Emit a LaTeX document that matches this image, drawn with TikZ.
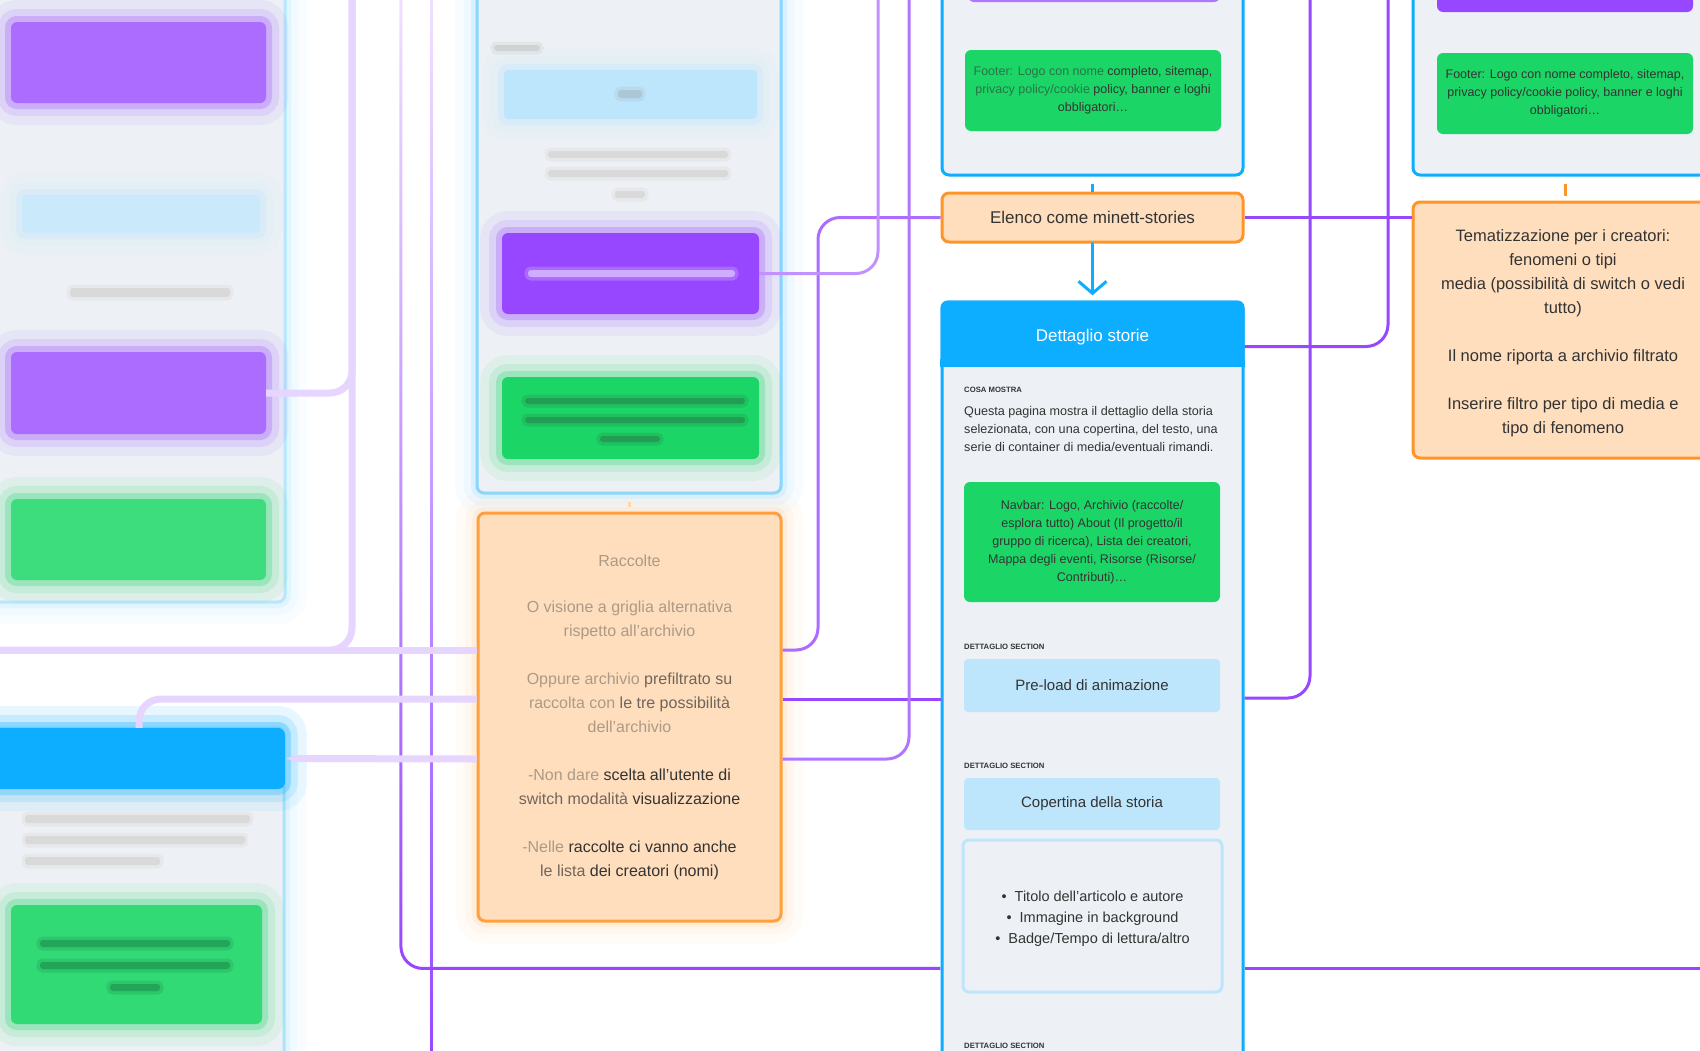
\documentclass[tikz,border=0pt]{standalone}
\usepackage{fontspec}
\setmainfont{Liberation Sans}
\usetikzlibrary{arrows.meta,positioning,fadings}

\definecolor{wire}{HTML}{9747FF}
\definecolor{sky}{HTML}{0DAEFF}
\definecolor{paper}{HTML}{EDF1F5}
\definecolor{ice}{HTML}{BDE5FB}
\definecolor{leaf}{HTML}{1BD666}
\definecolor{peach}{HTML}{FFDEBD}
\definecolor{amber}{HTML}{FF9528}
\definecolor{ink}{HTML}{333333}
\definecolor{mist}{HTML}{E6D6FF}
\colorlet{fog}{ink!40!peach}
\colorlet{dim}{ink!70!peach}

\tikzstyle{panel} = [rectangle, draw=sky, line width=3pt, fill=paper, rounded corners=7pt, inner sep=0pt]
\tikzstyle{head} = [rectangle, fill=sky, rounded corners=7pt, text=white, font=\fontsize{17}{20}\selectfont, inner sep=0pt]
\tikzstyle{note} = [rectangle, draw=amber, line width=3pt, fill=peach, rounded corners=7pt, text=ink, align=center, font=\fontsize{16.5}{24}\selectfont, inner sep=0pt]
\tikzstyle{navbox} = [rectangle, fill=leaf, rounded corners=6pt, text=ink, align=center, font=\fontsize{12.5}{18}\selectfont, inner sep=0pt]
\tikzstyle{bar} = [rectangle, fill=wire, rounded corners=6pt, inner sep=0pt]
\tikzstyle{section} = [rectangle, fill=ice, rounded corners=4pt, text=ink, font=\fontsize{15}{18}\selectfont, inner sep=0pt]
\tikzstyle{tag} = [anchor=west, inner sep=0pt, text=ink, font=\bfseries\fontsize{7.7}{9}\selectfont]
\tikzstyle{line} = [draw=wire, line width=3pt, rounded corners=22pt]
\tikzstyle{faint} = [draw=mist, line width=7pt, rounded corners=22pt]
\tikzstyle{tick} = [draw, line width=3pt]
\tikzset{haze/.style={preaction={draw=#1, draw opacity=.07, line width=44pt}, preaction={draw=#1, draw opacity=.12, line width=26pt}, preaction={draw=#1, draw opacity=.25, line width=12pt}},
  smudge/.style={fill=#1, draw=#1, draw opacity=.35, line width=7pt, rounded corners=3pt}}
\tikzfading[name=fade top, top color=transparent!85, middle color=transparent!75, bottom color=transparent!0]

\begin{document}
\begin{tikzpicture}[x=1pt, y=-1pt]
\useasboundingbox (0,0) rectangle (1700,1050);
\fill [white] (0,0) rectangle (1700,1050);

% Place nodes
% left column, out of focus
\node [panel, draw=sky!30, haze=sky!30, minimum width=305pt, minimum height=662pt] (leftcol) at (132.5,271) {};
\node [bar, fill=wire!80!white, haze=wire, minimum width=255pt, minimum height=81pt] (leftnav) at (138.5,62.5) {};
\node [section, fill=ice!80!white, haze=ice, minimum width=238pt, minimum height=38pt] (leftsec) at (141,214) {};
\path [smudge=gray!30] (70,288) rectangle (230,297);
\node [bar, fill=wire!80!white, haze=wire, minimum width=255pt, minimum height=82pt] (leftmenu) at (138.5,393) {};
\node [navbox, fill=leaf!85!white, haze=leaf, minimum width=255pt, minimum height=81pt] (leftfoot) at (138.5,539.5) {};

\node [panel, draw=sky!35, haze=sky!30, minimum width=304pt, minimum height=372pt] (mapcol) at (132,914) {};
\node [head, haze=sky, minimum width=305pt, minimum height=61pt] (maphead) at (132.5,758.5) {};
\path [smudge=gray!30] (25,815) rectangle (250,823);
\path [smudge=gray!30] (25,836) rectangle (245,844);
\path [smudge=gray!30] (25,857) rectangle (160,865);
\node [navbox, fill=leaf!90!white, haze=leaf, minimum width=251pt, minimum height=119pt] (mapfoot) at (136.5,964.5) {};
\path [smudge=leaf!70!ink] (40,940) rectangle (230,947);
\path [smudge=leaf!70!ink] (40,962) rectangle (230,969);
\path [smudge=leaf!70!ink] (110,984) rectangle (160,991);

% archive column, out of focus
\node [panel, draw=sky!50, haze=sky!40, minimum width=304pt, minimum height=553pt] (archive) at (629,216.5) {};
\path [smudge=gray!35] (494,45) rectangle (540,51);
\node [section, haze=ice, minimum width=253pt, minimum height=49pt] (archsec) at (630.5,94.5) {};
\path [smudge=ice!70!gray] (618,90) rectangle (642,98);
\path [smudge=gray!30] (548,151) rectangle (728,158);
\path [smudge=gray!30] (548,170) rectangle (728,177);
\path [smudge=gray!30] (615,191) rectangle (645,198);
\node [bar, haze=wire, minimum width=257pt, minimum height=81pt] (archmenu) at (630.5,273.5) {};
\path [smudge=white!55!wire] (528,270) rectangle (735,277);
\node [navbox, haze=leaf, minimum width=257pt, minimum height=82pt] (archfoot) at (630.5,418) {};
\path [smudge=leaf!65!ink] (525,398) rectangle (745,404);
\path [smudge=leaf!65!ink] (525,417) rectangle (745,423);
\path [smudge=leaf!65!ink] (600,436) rectangle (660,442);

\node [note, draw=amber!90, haze=amber!40, font=\fontsize{16}{24}\selectfont, minimum width=303pt, minimum height=408pt] (collections) at (629.5,717) {\raisebox{-2pt}{\color{fog}Raccolte}\\[24pt] \color{fog}O visione a griglia alternativa\\ \color{fog}rispetto all’archivio\\[24pt] \color{fog}Oppure archivio \color{dim}prefiltrato su\\ \color{fog}raccolta con \color{dim}le tre possibilità\\ \color{fog}dell’archivio\\[24pt] \color{fog}-Non dare \color{ink}scelta all’utente di\\ \color{dim}switch modalità \color{ink}visualizzazione\\[24pt] \color{fog}-Nelle \color{ink}raccolte ci vanno anche\\ \color{dim}le lista \color{ink}dei creatori (nomi)};

% story column
\node [panel, minimum width=301pt, minimum height=235pt] (storytop) at (1092.5,57.5) {};
\node [bar, fill=wire!75!white, minimum width=252pt, minimum height=42pt] (storybar) at (1094,-19) {};
\node [navbox, minimum width=256pt, minimum height=81pt] (storyfoot) at (1093,90.5) {\color{ink!60!leaf}Footer: Logo con nome \color{ink}completo, sitemap,\\ \color{ink!60!leaf}privacy policy/cookie \color{ink}policy, banner e loghi\\ obbligatori…};
\node [note, font=\fontsize{17}{20}\selectfont, minimum width=301pt, minimum height=49pt] (elenco) at (1092.5,217.5) {\raisebox{-2pt}[12.4pt][3.6pt]{Elenco come minett-stories}};

\node [panel, minimum width=301pt, minimum height=798pt] (detail) at (1092.5,701) {};
\node [head, minimum width=304pt, minimum height=66pt] (dethead) at (1092.5,333.5) {\raisebox{-4pt}[12.4pt][3.6pt]{Dettaglio storie}};
\fill [sky] ([yshift=8pt]dethead.south west) rectangle (dethead.south east);
\node [tag] (showtag) at (964,390) {COSA MOSTRA};
\node [anchor=west, align=left, inner sep=0pt, text=ink, font=\fontsize{12.6}{18}\selectfont] (summary) at (964,429) {Questa pagina mostra il dettaglio della storia\\ selezionata, con una copertina, del testo, una\\ serie di container di media/eventuali rimandi.};
\node [navbox, minimum width=256pt, minimum height=120pt] (navbar) at (1092,542) {Navbar: Logo, Archivio (raccolte/\\ esplora tutto) About (Il progetto/il\\ gruppo di ricerca), Lista dei creatori,\\ Mappa degli eventi, Risorse (Risorse/\\ Contributi)…};
\node [tag] (sectag1) at (964,647) {DETTAGLIO SECTION};
\node [section, minimum width=256pt, minimum height=53pt] (preload) at (1092,685.5) {Pre-load di animazione};
\node [tag] (sectag2) at (964,766) {DETTAGLIO SECTION};
\node [section, minimum width=256pt, minimum height=52pt] (cover) at (1092,804) {Copertina della storia};
\node [panel, draw=ice, rounded corners=6pt, align=center, text=ink, font=\fontsize{14.5}{21}\selectfont, minimum width=259pt, minimum height=152pt] (coverlist) at (1092.5,916) {\rule{0pt}{16pt}\textbullet\hspace{8pt}Titolo dell’articolo e autore\\ \textbullet\hspace{8pt}Immagine in background\\ \textbullet\hspace{8pt}Badge/Tempo di lettura/altro};
\node [tag] (sectag3) at (964,1046) {DETTAGLIO SECTION};

% creators column
\node [panel, minimum width=304pt, minimum height=235pt] (creatortop) at (1565,57.5) {};
\node [bar, minimum width=256pt, minimum height=52pt] (creatorbar) at (1565,-14) {};
\node [navbox, minimum width=256pt, minimum height=81pt] (creatorfoot) at (1565,93.5) {Footer: Logo con nome completo, sitemap,\\ privacy policy/cookie policy, banner e loghi\\ obbligatori…};
\node [note, minimum width=300pt, minimum height=256pt] (themes) at (1563,330) {\rule{0pt}{18pt}Tematizzazione per i creatori:\\ fenomeni o tipi\\ media (possibilità di switch o vedi\\ tutto)\\[24pt] Il nome riporta a archivio filtrato\\[24pt] Inserire filtro per tipo di media e\\ tipo di fenomeno};

% free ends
\coordinate (storyup) at (1388,-10);
\coordinate (preup) at (1310,-10);
\coordinate (rightout) at (1710,968);
\coordinate (coverup) at (401,-10);
\coordinate (trunktop) at (431,-10);
\coordinate (trunkbot) at (431,1060);
\coordinate (archup) at (909,-10);
\coordinate (menuup) at (878,-10);
\coordinate (sideup) at (352,-10);
\coordinate (sideout) at (-10,650);

% Draw edges
\path [tick, draw=sky, shorten <=7pt] (storytop) -- (elenco);
\path [tick, draw=sky, line cap=round, shorten >=5pt, -{Straight Barb[length=12pt, width=28pt]}] (elenco) -- (dethead);
\path [tick, draw=amber, shorten <=7pt, shorten >=5pt] (creatortop.south) -- (creatortop.south |- themes.north);
\path [tick, draw=amber!40, shorten <=7pt, shorten >=5pt] (archive.south) -- (archive.south |- collections.north);

\path [line] (elenco.east) -- (elenco.east -| themes.west);
\path [line] ([yshift=-13pt]dethead.east) -| (storyup);
\path [line] (detail.east |- 0,698) -| (preup);
\path [line] (detail.east |- 0,968) -- (rightout);
\path [line] (collections.east |- 0,699) -- (detail.west |- 0,699);
\path [line, draw=wire!80!white] (elenco.west) -| (818,650) -- (collections.east |- 0,650);
\path [line, draw=wire!75!white] (collections.east |- 0,759) -| (archup);
\path [line, draw=wire!60!white] (archmenu.east) -| (menuup);
\path [line, path fading=fade top] (detail.west |- 0,968) -| (coverup);
\path [line, path fading=fade top] (trunktop) -- (trunkbot);

\path [faint] (collections.west |- 0,650) -- (sideout);
\path [faint] (sideup) |- (sideout);
\path [faint] (leftmenu.east) -| (sideup);
\path [faint] (collections.west |- 0,699) -| (maphead.north -| 139,0);
\path [faint, -{Latex[length=10pt]}] (collections.west |- 0,759) -- (maphead.east);

\end{tikzpicture}
\end{document}
